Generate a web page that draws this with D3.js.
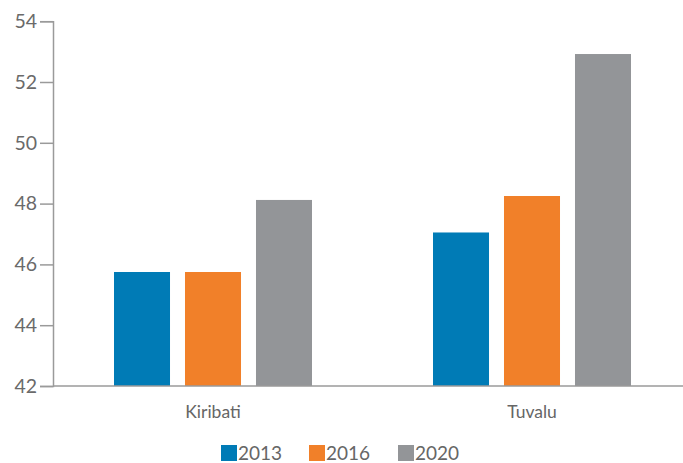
<!DOCTYPE html>
<html>
<head>
<meta charset="utf-8">
<script src="https://cdn.jsdelivr.net/npm/d3@7"></script>
<style>
  body { margin: 0; background: #fff; }
  text { font-family: Lato, "Open Sans", sans-serif; fill: #666; }
</style>
</head>
<body>
<div id="chart"></div>
<script>
var w = 683,
	h = 463;

// categories and series
var countries = ["Kiribati", "Tuvalu"];
var years = ["2013", "2016", "2020"];
var v2013 = [45.75, 47.05];
var v2016 = [45.75, 48.25];
var v2020 = [48.12, 52.92];
var yTicks = [42, 44, 46, 48, 50, 52, 54];

var colors = ["#007bb6", "#f18029", "#939598"];
var series = [v2013, v2016, v2020];

var svg = d3.select("#chart").append("svg")
	.attr("width", w)
	.attr("height", h);

var y = d3.scaleLinear().domain([42, 54]).range([386, 21.2]);
var x0 = d3.scaleBand().domain(countries).range([53.5, 691.5]).padding(0);
var x1 = d3.scaleBand().domain(years).range([0, 198]).paddingInner(0.211).paddingOuter(0);

// y axis
var yAxis = svg.append("g")
	.attr("transform", "translate(53,0)")
	.call(d3.axisLeft(y).tickValues(yTicks).tickSize(13).tickPadding(3).tickFormat(d3.format("d")));
yAxis.select(".domain").attr("stroke", "#9a9a9a").attr("stroke-width", 1.5);
yAxis.selectAll(".tick line").attr("stroke", "#9a9a9a").attr("stroke-width", 1.5);
yAxis.selectAll("text").attr("font-size", "19.5px").style("fill", "#6a6a6a");

// bars
var groups = svg.selectAll(".grp")
	.data(countries)
	.enter().append("g")
	.attr("class", "grp")
	.attr("transform", function(d) { return "translate(" + (x0(d) + x0.bandwidth() / 2 - 99) + ",0)"; });

groups.selectAll("rect")
	.data(function(d, i) { return years.map(function(yr, j) { return {year: yr, value: series[j][i], c: colors[j]}; }); })
	.enter().append("rect")
	.attr("x", function(d) { return x1(d.year); })
	.attr("y", function(d) { return y(d.value); })
	.attr("width", x1.bandwidth())
	.attr("height", function(d) { return y(42) - y(d.value); })
	.attr("fill", function(d) { return d.c; });

// baseline
svg.append("line")
	.attr("x1", 53).attr("x2", w)
	.attr("y1", y(42)).attr("y2", y(42))
	.attr("stroke", "#9a9a9a").attr("stroke-width", 1.5);

// category labels
svg.selectAll(".cat")
	.data(countries)
	.enter().append("text")
	.attr("class", "cat")
	.attr("x", function(d) { return x0(d) + x0.bandwidth() / 2; })
	.attr("y", 418)
	.attr("text-anchor", "middle")
	.attr("font-size", "17.5px")
	.text(function(d) { return d; });

// legend
var legendX = [221, 309, 398];
var legend = svg.selectAll(".leg")
	.data(years)
	.enter().append("g")
	.attr("class", "leg")
	.attr("transform", function(d, i) { return "translate(" + legendX[i] + ",445)"; });
legend.append("rect")
	.attr("width", 16).attr("height", 16)
	.attr("fill", function(d, i) { return colors[i]; });
legend.append("text")
	.attr("x", 17).attr("y", 15)
	.attr("font-size", "19px")
	.text(function(d) { return d; });
</script>
</body>
</html>
